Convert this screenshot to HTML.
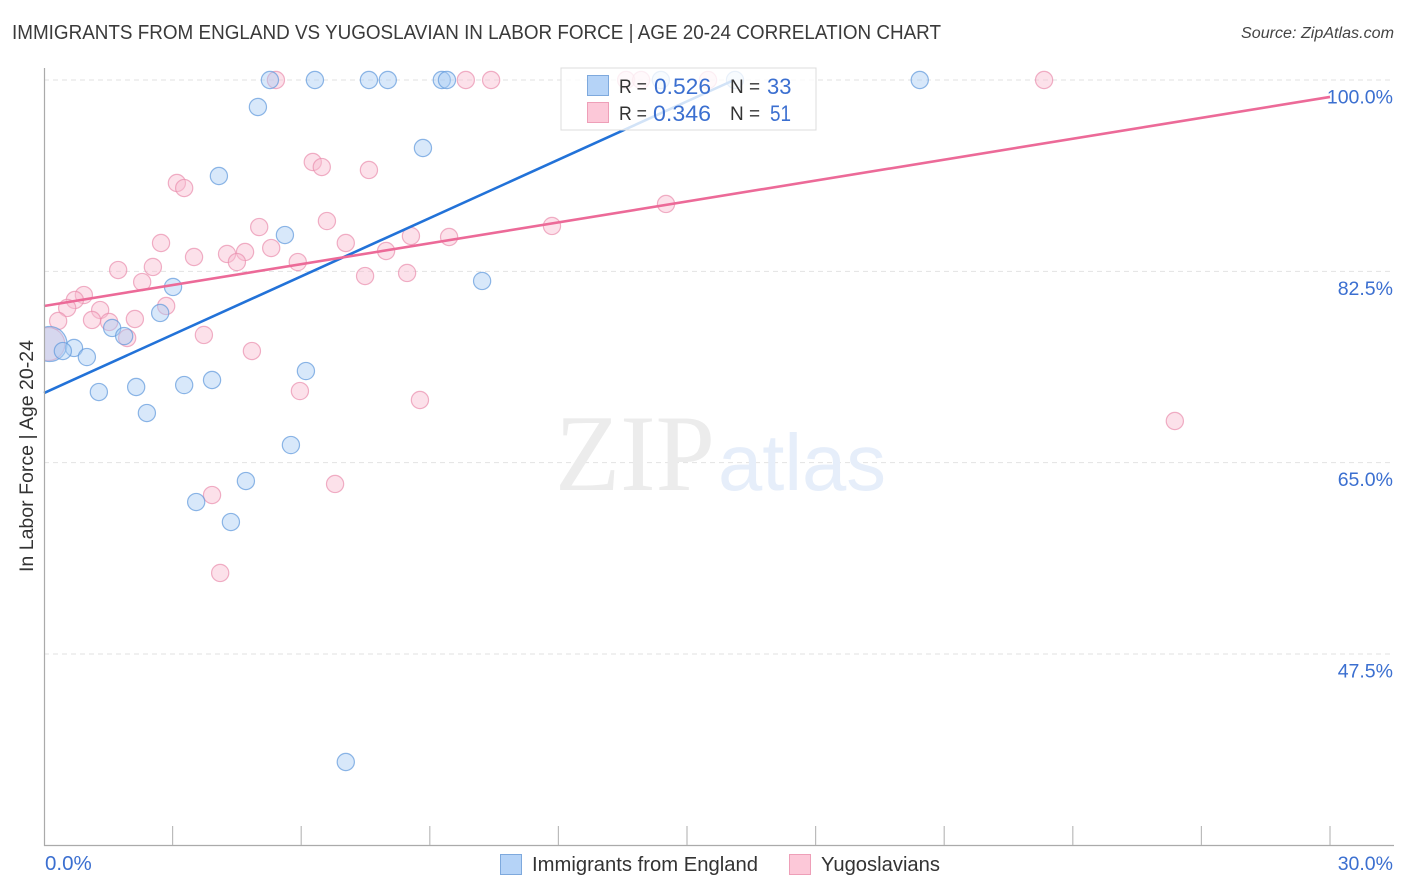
<!DOCTYPE html>
<html>
<head>
<meta charset="utf-8">
<title>Immigrants from England vs Yugoslavian in Labor Force | Age 20-24</title>
<style>
html,body{margin:0;padding:0;background:#fff;width:1406px;height:892px;overflow:hidden}
svg{display:block;font-family:"Liberation Sans",sans-serif}
</style>
</head>
<body>
<svg id="chart" xmlns="http://www.w3.org/2000/svg" width="1406" height="892" viewBox="0 0 1406 892">
  <defs>
    <clipPath id="plot-clip"><rect x="45" y="60" width="1350" height="785"/></clipPath>
  </defs>
  <rect x="0" y="0" width="1406" height="892" fill="#fff"/>
  <text x="12" y="39" font-size="20" fill="#3a3a3a" textLength="929" lengthAdjust="spacingAndGlyphs">IMMIGRANTS FROM ENGLAND VS YUGOSLAVIAN IN LABOR FORCE | AGE 20-24 CORRELATION CHART</text>
  <text x="1394" y="38" font-size="15.5" font-style="italic" fill="#444" text-anchor="end" textLength="153" lengthAdjust="spacingAndGlyphs">Source: ZipAtlas.com</text>
  <g id="grid"></g>
  <g>
    <text x="555" y="490" font-family="'Liberation Serif',serif" font-size="109" fill="#ececec" textLength="160" lengthAdjust="spacingAndGlyphs">ZIP</text>
    <text x="718" y="490" font-size="80" fill="#e6eefa" textLength="168" lengthAdjust="spacingAndGlyphs">atlas</text>
  </g>
  <g id="points" clip-path="url(#plot-clip)"></g>
  <g id="trends"></g>
  <g id="axes"></g>
  <text transform="translate(33,456) rotate(-90)" font-size="19" fill="#333" text-anchor="middle" textLength="232" lengthAdjust="spacingAndGlyphs">In Labor Force | Age 20-24</text>

  <g>
    <rect x="561" y="68" width="255" height="62" fill="#fff" fill-opacity="0.8" stroke="#dcdcdc" stroke-width="1"/>
    <rect x="587.5" y="75.5" width="21" height="20" fill="#b5d3f7" stroke="#7ea9dd"/>
    <rect x="587.5" y="102.5" width="21" height="20" fill="#fcc8d8" stroke="#ee9fb8"/>
    <text x="619" y="93" font-size="19" fill="#333" textLength="28" lengthAdjust="spacingAndGlyphs">R =</text>
    <text x="654" y="94" font-size="22" fill="#3b6fd0" textLength="57" lengthAdjust="spacingAndGlyphs">0.526</text>
    <text x="730" y="93" font-size="19" fill="#333">N =</text>
    <text x="767" y="94" font-size="22" fill="#3b6fd0">33</text>
    <text x="619" y="120" font-size="19" fill="#333" textLength="28" lengthAdjust="spacingAndGlyphs">R =</text>
    <text x="653" y="121" font-size="22" fill="#3b6fd0" textLength="58" lengthAdjust="spacingAndGlyphs">0.346</text>
    <text x="730" y="120" font-size="19" fill="#333">N =</text>
    <text x="770" y="121" font-size="22" fill="#3b6fd0" textLength="21" lengthAdjust="spacingAndGlyphs">51</text>
  </g>

  <g>
    <rect x="500.5" y="854.5" width="21" height="20" fill="#b5d3f7" stroke="#7ea9dd"/>
    <text x="532" y="871" font-size="20" fill="#333" textLength="226" lengthAdjust="spacingAndGlyphs">Immigrants from England</text>
    <rect x="789.5" y="854.5" width="21" height="20" fill="#fcc8d8" stroke="#ee9fb8"/>
    <text x="821" y="871" font-size="20" fill="#333" textLength="119" lengthAdjust="spacingAndGlyphs">Yugoslavians</text>
  </g>
</svg>
<script>
const englandX = [0.13,5.27,6.32,7.58,8.02,9.28,9.40,14.39,16.12,20.43,4.99,8.84,4.08,5.62,10.22,3.01,2.71,1.59,1.87,0.70,0.44,1.00,6.11,3.92,3.27,2.15,1.28,2.40,5.76,4.71,3.55,4.36,7.04];
const englandY = [75.85,100,100,100,100,100,100,100,100,100,97.53,93.78,91.22,85.82,81.62,81.07,78.69,77.32,76.58,75.49,75.21,74.66,73.38,72.56,72.10,71.92,71.46,69.54,66.61,63.32,61.40,59.57,37.62];
const yugoX = [0.10,5.41,9.84,10.43,13.58,13.93,15.49,23.33,6.27,6.48,7.58,3.10,3.27,6.60,5.02,11.85,14.51,2.73,7.04,8.56,9.45,5.30,3.50,4.27,4.69,4.50,7.98,5.92,1.73,2.54,7.49,8.47,2.29,0.93,0.72,2.85,0.54,1.31,0.33,1.12,1.52,2.12,3.73,1.94,4.85,5.97,8.77,26.38,6.79,3.92,4.11];
const yugoY = [75.85,100,100,100,100,100,100,100,92.50,92.04,91.77,90.58,90.12,87.10,86.55,86.65,88.66,85.09,85.09,85.73,85.64,84.63,83.81,84.09,84.27,83.35,84.36,83.35,82.62,82.90,82.07,82.35,81.52,80.33,79.88,79.33,79.15,78.96,77.96,78.05,77.87,78.14,76.68,76.40,75.21,71.55,70.73,68.81,63.05,62.04,54.91];
const englandTrendX = [0,16.1];
const englandTrendY = [71.37,100];
const yugoTrendX = [0,30];
const yugoTrendY = [79.33,98.45];
const yTickValues = [100,82.5,65,47.5];
const yTickLabels = ["100.0%","82.5%","65.0%","47.5%"];
const xTickValues = [3,6,9,12,15,18,21,24,27,30];
const xEndValues = [0,30];
const xEndLabels = ["0.0%","30.0%"];

const NS = "http://www.w3.org/2000/svg";
const sx = function (v) { return 44 + v * 42.867; };
const sy = function (v) { return 80 + (100 - v) * 10.933; };
const make = function (tag, parent) {
  const el = document.createElementNS(NS, tag);
  parent.appendChild(el);
  return el;
};
const grid = document.getElementById("grid");
const axes = document.getElementById("axes");
const points = document.getElementById("points");
const trends = document.getElementById("trends");

yTickValues.forEach(function (v, i) {
  const g = make("line", grid);
  
  
  g.setAttribute("x1", 44);
  g.setAttribute("x2", 1394);
  g.setAttribute("y1", sy(v));
  g.setAttribute("y2", sy(v));
  g.setAttribute("stroke", "#e2e2e2");
  g.setAttribute("stroke-width", "1");
  g.setAttribute("stroke-dasharray", "5 4");
  const t = make("text", axes);
  
  
  t.setAttribute("x", 1393);
  t.setAttribute("y", sy(v) + 23.5);
  t.setAttribute("text-anchor", "end");
  t.setAttribute("font-size", "19.5");
  t.setAttribute("fill", "#3b6fd0");
  t.textContent = yTickLabels[i];
});

const drawPoints = function (xs, ys, fill, stroke, bigR, name) {
  xs.forEach(function (x, i) {
    const c = make("circle", points);
    
    
    c.setAttribute("cx", sx(x));
    c.setAttribute("cy", sy(ys[i]));
    c.setAttribute("r", i === 0 ? bigR : 8.6);
    c.setAttribute("fill", fill);
    c.setAttribute("fill-opacity", "0.45");
    c.setAttribute("stroke", stroke);
    c.setAttribute("stroke-opacity", "0.7");
    c.setAttribute("stroke-width", "1.2");
  });
};
drawPoints(yugoX, yugoY, "#f9bdd0", "#ea8fae", 16.5, "point-yugoslavians");
drawPoints(englandX, englandY, "#a9cbf3", "#5f98dc", 17.5, "point-england");

const drawTrend = function (xs, ys, color, name) {
  const l = make("line", trends);
  
  
  l.setAttribute("x1", sx(xs[0]));
  l.setAttribute("y1", sy(ys[0]));
  l.setAttribute("x2", sx(xs[1]));
  l.setAttribute("y2", sy(ys[1]));
  l.setAttribute("stroke", color);
  l.setAttribute("stroke-width", "2.6");
};
drawTrend(englandTrendX, englandTrendY, "#2272d8", "trend-line-england");
drawTrend(yugoTrendX, yugoTrendY, "#ec6a98", "trend-line-yugoslavians");

const yAxis = make("line", axes);


yAxis.setAttribute("x1", 44.5);
yAxis.setAttribute("x2", 44.5);
yAxis.setAttribute("y1", 68);
yAxis.setAttribute("y2", 846);
yAxis.setAttribute("stroke", "#aaa");
yAxis.setAttribute("stroke-width", "1.2");

const xAxis = make("line", axes);


xAxis.setAttribute("x1", 44);
xAxis.setAttribute("x2", 1394);
xAxis.setAttribute("y1", 845.5);
xAxis.setAttribute("y2", 845.5);
xAxis.setAttribute("stroke", "#aaa");
xAxis.setAttribute("stroke-width", "1.2");

xTickValues.forEach(function (v) {
  const t = make("line", axes);
  
  
  t.setAttribute("x1", sx(v));
  t.setAttribute("x2", sx(v));
  t.setAttribute("y1", 826);
  t.setAttribute("y2", 845);
  t.setAttribute("stroke", "#bbb");
  t.setAttribute("stroke-width", "1.2");
});

xEndValues.forEach(function (v, i) {
  const t = make("text", axes);
  
  
  t.setAttribute("x", i === 0 ? sx(v) + 1 : 1393);
  t.setAttribute("y", 870);
  t.setAttribute("text-anchor", i === 0 ? "start" : "end");
  t.setAttribute("font-size", i === 0 ? "20.5" : "19.5");
  t.setAttribute("fill", "#3b6fd0");
  t.textContent = xEndLabels[i];
});
</script>
</body>
</html>
